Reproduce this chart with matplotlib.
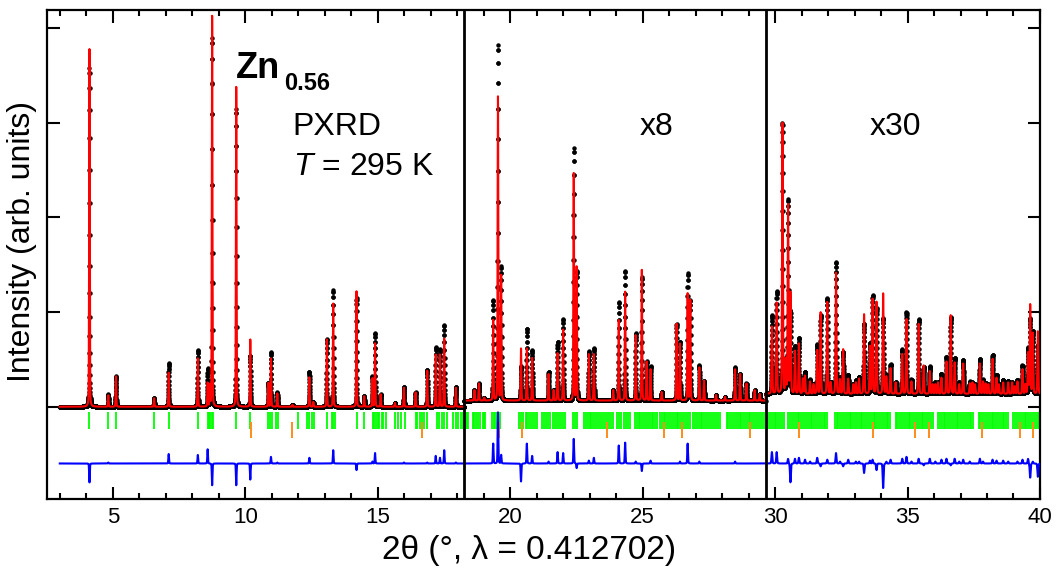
import numpy as np
import matplotlib
matplotlib.use("Agg")
import matplotlib.pyplot as plt
from matplotlib.ticker import MultipleLocator

plt.rcParams["font.family"] = ["Liberation Sans", "DejaVu Sans"]
plt.rcParams["mathtext.fontset"] = "custom"
plt.rcParams["mathtext.rm"] = "Liberation Sans"
plt.rcParams["mathtext.it"] = "Liberation Sans:italic"
plt.rcParams["mathtext.bf"] = "Liberation Sans:bold"

# ── Datos (unidades del gráfico, ya escaladas x8 / x30) ──

SEG_EDGES = [18.27, 29.64]          # cambios de escala (x1 | x8 | x30)
SEG_BG    = [0.0, 0.065, 0.135]     # fondo de cada tramo

# tramo 1 (x1)
pk1_pos  = [4.12, 4.83, 5.12, 6.56, 7.11, 8.21, 8.58, 8.66, 8.75, 9.66, 10.19,
            10.87, 10.97, 11.21, 11.78, 12.42, 12.57, 13.08, 13.32, 14.20, 14.49,
            14.80, 14.90, 15.11, 15.65, 15.99, 16.43, 16.87, 17.19, 17.35, 17.51,
            17.95]
pk1_obs  = [3.58, 0.13, 0.32, 0.09, 0.46, 0.60, 0.40, 0.22, 3.90, 3.15, 0.54,
            0.25, 0.58, 0.15, 0.02, 0.37, 0.05, 0.71, 1.23, 1.15, 0.11,
            0.32, 0.78, 0.13, 0.04, 0.21, 0.15, 0.39, 0.63, 0.61, 0.86,
            0.21]
pk1_calc = [3.78, 0.12, 0.32, 0.09, 0.36, 0.51, 0.25, 0.22, 4.13, 3.38, 0.71,
            0.25, 0.51, 0.14, 0.02, 0.31, 0.05, 0.71, 1.09, 1.22, 0.11,
            0.30, 0.67, 0.13, 0.04, 0.20, 0.15, 0.38, 0.55, 0.55, 0.72,
            0.20]

# tramo 2 (x8)
pk2_pos  = [18.65, 18.82, 19.02, 19.36, 19.54, 19.66, 20.41, 20.63, 20.83, 21.45,
            21.64, 21.79, 22.00, 22.40, 22.51, 22.97, 23.16, 23.89, 24.10, 24.34,
            24.74, 24.97, 25.15, 25.30, 25.72, 26.28, 26.41, 26.70, 26.80, 27.14,
            27.32, 27.77, 28.11, 28.49, 28.68, 28.92, 29.23, 29.42]
pk2_obs  = [0.11, 0.18, 0.03, 1.06, 3.75, 1.41, 0.36, 0.76, 0.53, 0.30,
            0.11, 0.62, 0.86, 2.66, 1.36, 0.52, 0.55, 0.11, 1.04, 1.37,
            0.71, 1.30, 0.41, 0.36, 0.09, 0.81, 0.62, 1.34, 1.06, 0.37,
            0.21, 0.06, 0.04, 0.35, 0.28, 0.18, 0.11, 0.07]
pk2_calc = [0.11, 0.18, 0.03, 0.85, 3.21, 1.32, 0.55, 0.55, 0.45, 0.28,
            0.11, 0.50, 0.75, 2.40, 1.41, 0.49, 0.49, 0.11, 0.85, 1.15,
            0.69, 1.38, 0.41, 0.33, 0.09, 0.81, 0.60, 1.13, 1.06, 0.35,
            0.21, 0.06, 0.04, 0.33, 0.28, 0.18, 0.11, 0.07]

# tramo 3 (x30)
pk3_pos  = [29.88, 30.06, 30.28, 30.40, 30.49, 30.58, 30.75, 30.90, 31.05, 31.13,
            31.32, 31.45, 31.59, 31.72, 31.97, 32.10, 32.30, 32.45, 32.57, 32.76,
            32.95, 33.05, 33.17, 33.36, 33.58, 33.68, 33.83, 34.08, 34.20, 34.36,
            34.55, 34.80, 34.96, 35.15, 35.42, 35.61, 35.84, 35.95, 36.05, 36.15,
            36.28, 36.47, 36.63, 36.78, 36.95, 37.10, 37.35, 37.45, 37.55, 37.73,
            37.85, 37.95, 38.05, 38.21, 38.36, 38.45, 38.61, 38.80, 38.95, 39.05,
            39.15, 39.34, 39.45, 39.55, 39.63, 39.73, 39.92]
pk3_obs  = [0.83, 1.08, 2.86, 0.35, 2.04, 0.86, 0.50, 0.59, 0.16, 0.23,
            0.15, 0.10, 0.52, 0.83, 1.01, 0.12, 1.39, 0.17, 0.44, 0.20,
            0.10, 0.14, 0.18, 0.74, 0.53, 1.04, 0.90, 0.80, 0.20, 0.31,
            0.12, 0.47, 0.86, 0.15, 0.79, 0.28, 0.29, 0.10, 0.12, 0.12,
            0.21, 0.39, 0.81, 0.38, 0.12, 0.36, 0.13, 0.12, 0.10, 0.37,
            0.15, 0.11, 0.10, 0.41, 0.20, 0.10, 0.15, 0.14, 0.12, 0.08,
            0.15, 0.30, 0.10, 0.48, 0.79, 0.66, 0.52]
pk3_calc = [0.71, 0.96, 2.86, 0.35, 1.99, 1.06, 0.45, 0.53, 0.16, 0.19,
            0.13, 0.10, 0.46, 0.86, 0.97, 0.12, 1.28, 0.15, 0.47, 0.16,
            0.10, 0.12, 0.16, 0.84, 0.50, 1.00, 0.97, 1.06, 0.18, 0.27,
            0.12, 0.42, 0.79, 0.13, 0.74, 0.30, 0.24, 0.10, 0.10, 0.12,
            0.17, 0.34, 0.83, 0.33, 0.10, 0.32, 0.11, 0.12, 0.10, 0.32,
            0.13, 0.11, 0.10, 0.37, 0.17, 0.10, 0.12, 0.12, 0.12, 0.08,
            0.13, 0.26, 0.10, 0.43, 0.94, 0.64, 0.66]

# reflexiones: fase principal (verde) y fase secundaria (naranja)
refl_main = [
    4.12, 4.83, 5.12, 6.56, 7.11, 8.21, 8.58, 8.63, 8.68, 8.73, 8.77, 9.66, 10.19,
    10.85, 10.92, 11.02, 11.15, 11.23, 11.98, 12.32, 12.42, 12.51, 12.60, 13.08,
    13.26, 13.32, 13.38, 14.21, 14.49, 14.81, 14.87, 14.94, 15.00, 15.06, 15.15,
    15.21, 15.31, 15.65, 15.78, 15.87, 16.03, 16.43, 16.49, 16.60, 16.68, 16.75,
    16.87, 17.23, 17.31, 17.41, 17.50, 17.60, 17.85, 17.95, 18.04, 18.13, 18.23,
    18.33, 18.38, 18.42, 18.58, 18.64, 18.71, 18.80, 18.86, 18.96, 19.01, 19.05,
    19.33, 19.38, 19.44, 19.50, 19.55, 19.62, 20.33, 20.41, 20.50, 20.58, 20.65,
    20.72, 20.79, 20.86, 20.93, 21.00, 21.19, 21.26, 21.34, 21.42, 21.50, 21.63,
    21.70, 21.78, 21.86, 21.93, 22.00, 22.07, 22.38, 22.45, 22.53, 22.79, 22.86,
    22.93, 23.00, 23.07, 23.14, 23.22, 23.29, 23.36, 23.44, 23.51, 23.58, 23.64,
    23.72, 23.80, 23.89, 24.04, 24.12, 24.20, 24.28, 24.36, 24.44, 24.52, 24.71,
    24.78, 24.85, 24.92, 24.99, 25.06, 25.13, 25.20, 25.27, 25.34, 25.41, 25.48,
    25.56, 25.65, 25.72, 25.79, 25.86, 25.93, 26.00, 26.07, 26.14, 26.21, 26.28,
    26.35, 26.42, 26.49, 26.56, 26.64, 26.72, 26.79, 26.91, 26.98, 27.05, 27.12,
    27.19, 27.26, 27.33, 27.40, 27.47, 27.54, 27.61, 27.68, 27.76, 27.84, 27.92,
    28.17, 28.24, 28.31, 28.38, 28.45, 28.52, 28.59, 28.66, 28.73, 28.80, 28.86,
    28.93, 29.00, 29.07, 29.14, 29.21, 29.28, 29.35, 29.43, 29.50, 29.57, 29.70,
    29.77, 29.84, 29.91, 29.98, 30.05, 30.12, 30.19, 30.26, 30.33, 30.50, 30.57,
    30.64, 30.71, 30.78, 30.85, 30.92, 30.99, 31.06, 31.13, 31.20, 31.27, 31.34,
    31.41, 31.48, 31.55, 31.62, 31.69, 31.76, 31.83, 31.90, 31.97, 32.25, 32.32,
    32.39, 32.46, 32.53, 32.60, 32.67, 32.74, 32.81, 32.88, 32.95, 33.02, 33.09,
    33.16, 33.23, 33.30, 33.37, 33.44, 33.51, 33.58, 33.65, 33.72, 33.79, 33.86,
    33.93, 34.00, 34.07, 34.14, 34.21, 34.28, 34.35, 34.55, 34.62, 34.69, 34.76,
    34.83, 34.90, 34.97, 35.04, 35.11, 35.18, 35.25, 35.32, 35.39, 35.46, 35.53,
    35.60, 35.67, 35.74, 35.81, 35.88, 35.95, 36.15, 36.22, 36.29, 36.36, 36.43,
    36.50, 36.57, 36.64, 36.71, 36.78, 36.85, 36.92, 36.99, 37.06, 37.13, 37.20,
    37.27, 37.34, 37.41, 37.48, 37.68, 37.75, 37.82, 37.89, 37.96, 38.03, 38.10,
    38.17, 38.24, 38.31, 38.38, 38.45, 38.52, 38.59, 38.66, 38.73, 38.80, 39.00,
    39.07, 39.14, 39.21, 39.28, 39.35, 39.42, 39.49, 39.56, 39.63, 39.70, 39.77,
    39.84, 39.91, 39.98]
refl_sec = [10.20, 11.78, 16.68, 19.59, 20.46, 23.64, 25.80, 26.50, 29.07, 30.89,
            33.68, 35.29, 35.80, 37.80, 39.25, 39.73]

X_TICKS = [5, 10, 15, 20, 25, 30, 35, 40]

# ── Perfil de picos ──────────────────────────────────────────────────────────

def profile(x, pos, heights, sigma, eta=0.2):
    """Suma de pseudo-Voigt centrados en pos con las alturas dadas."""
    y = np.zeros_like(x)
    gam = sigma * 1.1774
    for p, h in zip(pos, heights):
        d = x - p
        g = np.exp(-0.5 * (d / sigma) ** 2)
        l = 1.0 / (1.0 + (d / gam) ** 2)
        y += h * ((1 - eta) * g + eta * l)
    return y


x = np.arange(3.0, 40.0, 0.002)
bg = np.where(x < SEG_EDGES[0], SEG_BG[0],
              np.where(x < SEG_EDGES[1], SEG_BG[1], SEG_BG[2]))
m1 = x < SEG_EDGES[0]
m2 = (x >= SEG_EDGES[0]) & (x < SEG_EDGES[1])
m3 = x >= SEG_EDGES[1]

obs = bg.copy()
calc = bg.copy()
for mask, pos, ho, hc, sig in [(m1, pk1_pos, pk1_obs, pk1_calc, 0.012),
                               (m2, pk2_pos, pk2_obs, pk2_calc, 0.013),
                               (m3, pk3_pos, pk3_obs, pk3_calc, 0.016)]:
    obs[mask] += profile(x[mask], pos, ho, sig)
    calc[mask] += profile(x[mask], pos, hc, sig)

diff = obs - calc - 0.6

# ── Figura ───────────────────────────────────────────────────────────────────

fig = plt.figure(figsize=(10.57, 5.71), dpi=100)
ax = fig.add_axes([0.0448, 0.126, 0.9391, 0.8565])

ax.plot(x, obs, "o", ms=3.2, color="black", mew=0, zorder=2)
ax.plot(x, calc, "-", color="#ff0000", lw=1.5, zorder=3)
ax.plot(x, diff, "-", color="#0000ff", lw=1.5, zorder=3)
ax.vlines(refl_main, -0.236, -0.053, color="#00ff00", lw=1.3, zorder=2)
ax.vlines(refl_sec, -0.328, -0.159, color="#ff8c1a", lw=1.4, zorder=2)

for e in SEG_EDGES:
    ax.axvline(e, color="black", lw=2.0, zorder=4)

ax.set_xlim(2.53, 40.0)
ax.set_ylim(-0.976, 4.193)
ax.set_xticks(X_TICKS)
ax.xaxis.set_minor_locator(MultipleLocator(1))
ax.set_yticks([0, 1, 2, 3, 4])
ax.set_yticklabels([])
ax.tick_params(which="both", direction="in", top=True, right=True, width=1.5)
ax.tick_params(which="major", length=9, labelsize=16, pad=6)
ax.tick_params(which="minor", length=4.5)
for s in ax.spines.values():
    s.set_linewidth(1.6)

ax.set_xlabel("2θ (°, λ = 0.412702)", fontsize=24)
ax.xaxis.set_label_coords(0.485, -0.074)
ax.set_ylabel("Intensity (arb. units)", fontsize=23)
ax.yaxis.set_label_coords(-0.010, 0.526)

ax.text(9.65, 3.475, "Zn", fontsize=26, fontweight="bold", va="baseline")
ax.text(11.46, 3.35, "0.56", fontsize=17, fontweight="bold", va="baseline")
ax.text(11.79, 2.87, "PXRD", fontsize=23, va="baseline")
ax.text(11.80, 2.45, "$T$ = 295 K", fontsize=23, va="baseline")
ax.text(24.87, 2.87, "x8", fontsize=23, va="baseline")
ax.text(33.58, 2.87, "x30", fontsize=23, va="baseline")

fig.savefig("out.png", dpi=100)
